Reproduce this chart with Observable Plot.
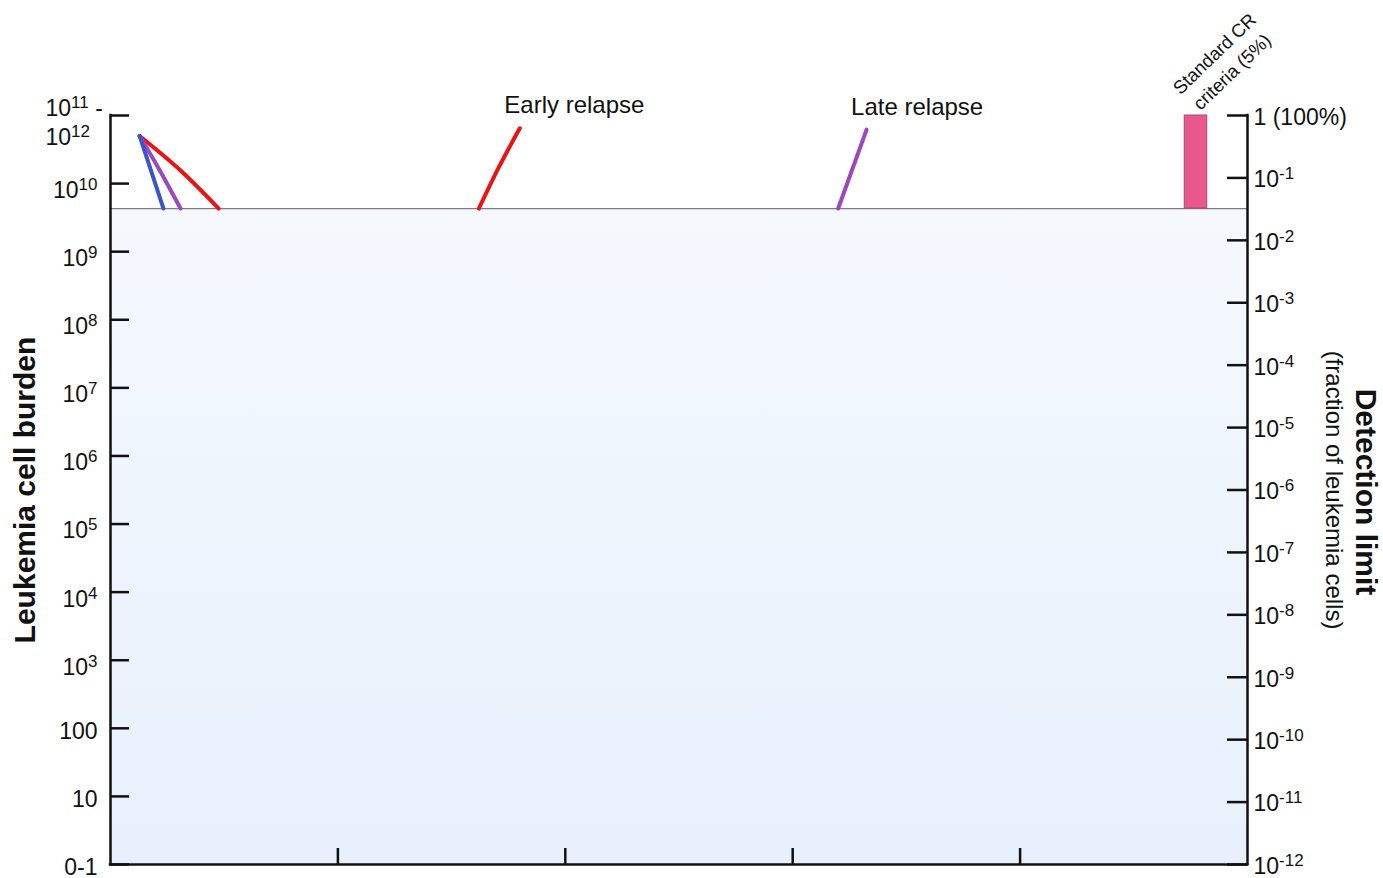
<!DOCTYPE html>
<html>
<head>
<meta charset="utf-8">
<script src="https://cdn.jsdelivr.net/npm/d3@7"></script>
<script src="https://cdn.jsdelivr.net/npm/@observablehq/plot@0.6"></script>
<style>
  html, body { margin: 0; padding: 0; background: #ffffff; }
  #chart svg { display: block; }
</style>
</head>
<body>
<div id="chart"></div>
<script>
// Time runs along x (arbitrary units, unlabelled ticks); leukemia cell burden on a log y axis.
const xDomain = [0, 5];
const xTicks = [1, 2, 3, 4];

// Left axis: leukemia cell burden
const burdenTicks = [1, 1e1, 1e2, 1e3, 1e4, 1e5, 1e6, 1e7, 1e8, 1e9, 1e10];
const burdenLabels = ["0-1", "10", "100", "10^3", "10^4", "10^5", "10^6", "10^7", "10^8", "10^9", "10^10"];
const burdenTop = [1e11];
const burdenTopLabel = ["10^11 -\n10^12"];

// Right axis: detection limit as a fraction of leukemia cells
const fractionTicks = [1, 1e-1, 1e-2, 1e-3, 1e-4, 1e-5, 1e-6, 1e-7, 1e-8, 1e-9, 1e-10, 1e-11, 1e-12];
const fractionLabels = ["1 (100%)", "10^-1", "10^-2", "10^-3", "10^-4", "10^-5", "10^-6",
  "10^-7", "10^-8", "10^-9", "10^-10", "10^-11", "10^-12"];

// Morphologic detection limit (cells); everything below is shaded
const detectionLimit = 4.3e9;

// Response during induction: three trajectories from the same diagnosis burden
const fastResponse = [{t: 0.128, burden: 5.0e10}, {t: 0.233, burden: 4.3e9}];
const midResponse = [{t: 0.128, burden: 5.0e10}, {t: 0.217, burden: 1.56e10}, {t: 0.308, burden: 4.3e9}];
const slowResponse = [{t: 0.128, burden: 5.0e10}, {t: 0.308, burden: 1.56e10}, {t: 0.476, burden: 4.3e9}];

// Relapses re-emerging above the detection limit
const earlyRelapse = [{t: 1.620, burden: 4.3e9}, {t: 1.708, burden: 1.74e10}, {t: 1.800, burden: 6.5e10}];
const lateRelapse = [{t: 3.200, burden: 4.3e9}, {t: 3.325, burden: 6.2e10}];
const relapseNames = ["Early relapse", "Late relapse"];

// Standard CR criteria band (fraction 1 down to the detection limit)
const crBand = [{t1: 4.724, t2: 4.823, top: 1}];
const crLabel = ["Standard CR\ncriteria (5%)"];

// Map a fraction (right axis, 10^-12 … 1) onto the burden scale (left axis, 1 … 10^11)
const burdenOf = f => 10 ** (11 + 11 * Math.log10(f) / 12);

const fontFamily = "'Liberation Sans', Arial, Helvetica, sans-serif";
const W = 1383, H = 878, mL = 110, mR = 136, mT = 115, mB = 14;
const plotW = W - mL - mR, plotH = H - mT - mB;
const axisStroke = "#111111";
const tickFont = 23;

const gradient = () => {
  const defs = d3.create("svg:defs");
  const g = defs.append("linearGradient").attr("id", "belowLimit")
    .attr("x1", 0).attr("y1", 0).attr("x2", 0).attr("y2", 1);
  g.append("stop").attr("offset", "0%").attr("stop-color", "#f5f9fe");
  g.append("stop").attr("offset", "100%").attr("stop-color", "#e7f0fc");
  return defs.node();
};

const hasPower = s => s.includes("^");
const plainIdx = burdenTicks.map((d, i) => i).filter(i => !hasPower(burdenLabels[i]));
const powerIdx = burdenTicks.map((d, i) => i).filter(i => hasPower(burdenLabels[i]));

const chart = Plot.plot({
  width: W, height: H,
  marginLeft: mL, marginRight: mR, marginTop: mT, marginBottom: mB,
  style: {fontFamily, background: "#ffffff", color: "#111", overflow: "visible"},
  x: {domain: xDomain, axis: null},
  y: {type: "log", domain: [1, 1e11], axis: null},
  marks: [
    gradient,
    // region below the detection limit
    Plot.rect([detectionLimit], {x1: xDomain[0], x2: xDomain[1], y1: 1, y2: d => d, fill: "url(#belowLimit)"}),
    Plot.ruleY([detectionLimit], {stroke: "#7d7d7d", strokeWidth: 1.3}),
    // standard CR criteria band
    Plot.rect(crBand, {x1: "t1", x2: "t2", y1: detectionLimit, y2: d => burdenOf(d.top),
      fill: "#e8588d", stroke: "#a24d6c", strokeWidth: 1}),
    Plot.text(crBand, {x: d => (d.t1 + d.t2) / 2, y: d => burdenOf(d.top), text: () => crLabel[0],
      rotate: -44, dx: 26, dy: -54, fontSize: 18.5, lineHeight: 1.36, textAnchor: "middle", fill: "#111"}),
    // induction trajectories
    Plot.line(slowResponse, {x: "t", y: "burden", stroke: "#ee1111", strokeWidth: 4, curve: "natural"}),
    Plot.line(midResponse, {x: "t", y: "burden", stroke: "#9a48bd", strokeWidth: 4, curve: "natural"}),
    Plot.line(fastResponse, {x: "t", y: "burden", stroke: "#3a55c8", strokeWidth: 4, curve: "natural"}),
    // relapses
    Plot.line(earlyRelapse, {x: "t", y: "burden", stroke: "#ee1111", strokeWidth: 4, curve: "natural"}),
    Plot.line(lateRelapse, {x: "t", y: "burden", stroke: "#9a48bd", strokeWidth: 4, curve: "natural"}),
    Plot.text([earlyRelapse.at(-1), lateRelapse.at(-1)], {x: "t", y: "burden", text: (d, i) => relapseNames[i],
      textAnchor: "start", dx: -15.5, dy: -22.5, fontSize: 24, fill: "#111"}),
    // axis lines
    Plot.ruleX([xDomain[0]], {y1: 1, y2: 1e11, stroke: axisStroke, strokeWidth: 2.5, strokeLinecap: "square"}),
    Plot.ruleX([xDomain[1]], {y1: 1, y2: 1e11, stroke: axisStroke, strokeWidth: 2.5, strokeLinecap: "square"}),
    Plot.ruleY([1], {x1: xDomain[0], x2: xDomain[1], stroke: axisStroke, strokeWidth: 2.5, strokeLinecap: "square"}),
    // inward ticks
    Plot.tickX(xTicks, {x: d => d, insetTop: plotH - 16, stroke: axisStroke, strokeWidth: 2.5}),
    Plot.tickY([...burdenTicks, ...burdenTop], {y: d => d, insetRight: plotW - 19, stroke: axisStroke, strokeWidth: 2.5}),
    Plot.tickY(fractionTicks, {y: d => burdenOf(d), insetLeft: plotW - 20, stroke: axisStroke, strokeWidth: 2.5}),
    // left tick labels
    Plot.text(plainIdx, {x: xDomain[0], y: i => burdenTicks[i], text: i => burdenLabels[i],
      textAnchor: "end", dx: -13, dy: 3, fontSize: tickFont, fill: "#111"}),
    Plot.text(powerIdx, {x: xDomain[0], y: i => burdenTicks[i], text: i => burdenLabels[i],
      textAnchor: "end", dx: -13, dy: 7, fontSize: tickFont, fill: "#111"}),
    Plot.text(burdenTop, {x: xDomain[0], y: d => d, text: () => burdenTopLabel[0],
      textAnchor: "start", dx: -65, dy: 6, lineHeight: 1.25, fontSize: tickFont, fill: "#111"}),
    // right tick labels
    Plot.text(fractionTicks, {x: xDomain[1], y: d => burdenOf(d), text: (d, i) => fractionLabels[i],
      textAnchor: "start", dx: 6, dy: 2, fontSize: tickFont, fill: "#111"}),
    // axis titles
    Plot.text(["Leukemia cell burden"], {frameAnchor: "left", textAnchor: "middle", dx: -85, rotate: -90,
      fontSize: 30, fontWeight: "bold", fill: "#111"}),
    Plot.text(["Detection limit"], {frameAnchor: "right", textAnchor: "middle", dx: 118, dy: 2, rotate: 90,
      fontSize: 30, fontWeight: "bold", fill: "#111"}),
    Plot.text(["(fraction of leukemia cells)"], {frameAnchor: "right", textAnchor: "middle", dx: 86, rotate: 90,
      fontSize: 24, fill: "#111"})
  ]
});

// Render "10^k" as 10 with a raised exponent
function raiseExponents(svg) {
  const walker = document.createTreeWalker(svg, NodeFilter.SHOW_TEXT);
  const nodes = [];
  while (walker.nextNode()) if (walker.currentNode.data.includes("^")) nodes.push(walker.currentNode);
  for (const node of nodes) {
    const m = node.data.match(/^(.*?)\^(\S+)(.*)$/);
    if (!m) continue;
    const frag = document.createDocumentFragment();
    frag.append(m[1]);
    const sup = document.createElementNS("http://www.w3.org/2000/svg", "tspan");
    sup.setAttribute("font-size", 17);
    sup.setAttribute("baseline-shift", "8px");
    sup.textContent = m[2];
    frag.append(sup);
    if (m[3]) frag.append(m[3]);
    node.parentNode.replaceChild(frag, node);
  }
}
raiseExponents(chart);
document.getElementById("chart").append(chart);
</script>
</body>
</html>
